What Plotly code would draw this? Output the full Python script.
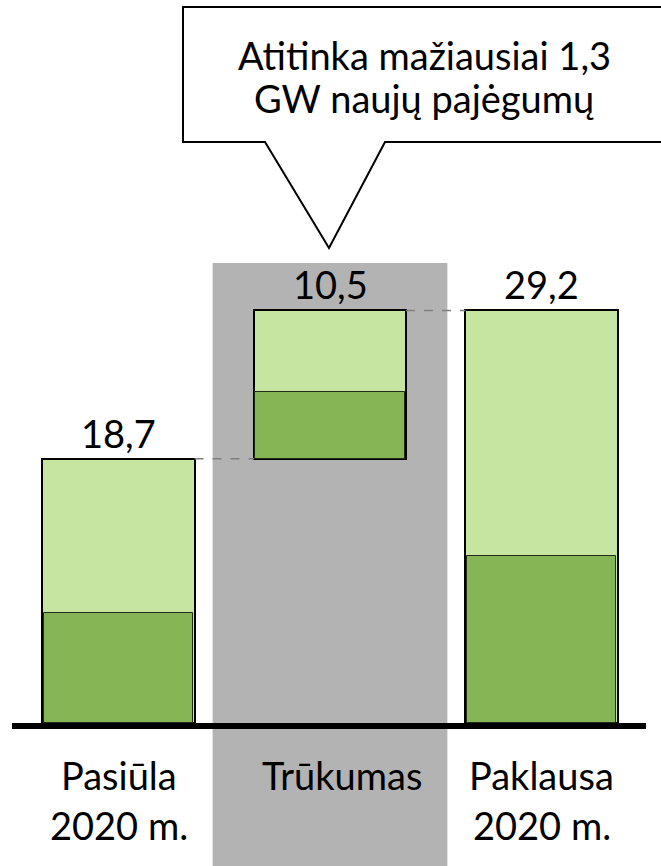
import plotly.graph_objects as go

# ---- data ----
categories = ["Pasiūla 2020 m.", "Trūkumas", "Paklausa 2020 m."]
cat_labels = ["Pasiūla<br>2020 m.", "Trūkumas", "Paklausa<br>2020 m."]
total_values = [18.7, 10.5, 29.2]
total_bases = [0.0, 18.7, 0.0]
dark_values = [7.8, 4.7, 11.8]
value_labels = ["18,7", "10,5", "29,2"]
callout_text = ["Atitinka mažiausiai 1,3", "GW naujų pajėgumų"]

W, H = 661, 866
FONT = "Lato"
LIGHT = "#c5e5a0"
DARK = "#86b555"
GRAY = "#b3b3b3"

def px(x):
    return x / W

def py(y):
    return 1 - y / H

fig = go.Figure()

bar_w = 0.719
fig.add_trace(go.Bar(
    x=categories, y=total_values, base=total_bases, width=bar_w,
    marker=dict(color=LIGHT, line=dict(color="black", width=2)),
    hoverinfo="skip", showlegend=False,
))
fig.add_trace(go.Bar(
    x=categories, y=dark_values, base=total_bases, width=bar_w - 0.01,
    marker=dict(color=DARK, line=dict(color="#1f2b14", width=1)),
    hoverinfo="skip", showlegend=False,
))

# y scale: 0 at 723 px, 14.13 px per unit
ppu = 14.13
y_lo = -(H - 723) / ppu
y_hi = 723 / ppu
# x scale: category 0 at 118.5 px, 211.5 px per category
x0px, xstep = 118.5, 211.5
x_lo = -x0px / xstep
x_hi = (W - x0px) / xstep

shapes = []
# gray highlight behind gap column
shapes.append(dict(type="rect", xref="x", yref="y", x0=1 - 0.555, x1=1 + 0.555,
                   y0=y_lo - 1, y1=(723 - 263) / ppu, fillcolor=GRAY,
                   line=dict(width=0), layer="below"))
# dashed connectors
tops = [b + v for b, v in zip(total_bases, total_values)]
for i in range(len(categories) - 1):
    shapes.append(dict(type="line", xref="x", yref="y",
                       x0=i + bar_w / 2, x1=i + 1 - bar_w / 2,
                       y0=tops[i], y1=tops[i],
                       line=dict(color="#7f7f7f", width=1.5, dash="dash")))
# baseline
shapes.append(dict(type="line", xref="x", yref="y",
                   x0=(12 - x0px) / xstep, x1=(646 - x0px) / xstep,
                   y0=-3 / ppu, y1=-3 / ppu,
                   line=dict(color="black", width=6)))
# callout
pts = [(183, 142), (183, 7), (680, 7), (680, 142), (385, 142), (329, 248), (265, 142)]
path = "M " + " L ".join(f"{px(a):.5f},{py(b):.5f}" for a, b in pts) + " Z"
shapes.append(dict(type="path", xref="paper", yref="paper", path=path,
                   fillcolor="white", line=dict(color="black", width=2)))

annotations = []
# value labels
for i, t in enumerate(value_labels):
    annotations.append(dict(x=categories[i], y=tops[i], xref="x", yref="y",
                            text=t, showarrow=False, yanchor="middle",
                            yshift=26, font=dict(family=FONT, size=38, color="black")))
# category labels
line_y = [775, 825]
xshifts = [0, 12, 0]
for i, lab in enumerate(cat_labels):
    for j, part in enumerate(lab.split("<br>")):
        annotations.append(dict(x=categories[i], y=(723 - line_y[j]) / ppu,
                                xref="x", yref="y", text=part, showarrow=False,
                                yanchor="middle", xshift=xshifts[i],
                                font=dict(family=FONT, size=38, color="black")))
# callout text
for j, t in enumerate(callout_text):
    annotations.append(dict(x=px(424), y=py([55, 98][j]), xref="paper", yref="paper",
                            text=t, showarrow=False, yanchor="middle",
                            font=dict(family=FONT, size=38, color="black")))

fig.update_layout(
    width=W, height=H,
    margin=dict(l=0, r=0, t=0, b=0),
    paper_bgcolor="white", plot_bgcolor="white",
    barmode="overlay", bargap=0,
    xaxis=dict(range=[x_lo, x_hi], showgrid=False, zeroline=False,
               showticklabels=False, showline=False, fixedrange=True),
    yaxis=dict(range=[y_lo, y_hi], showgrid=False, zeroline=False,
               showticklabels=False, showline=False, fixedrange=True),
    shapes=shapes, annotations=annotations,
)

fig.write_html("out.html", config={"displayModeBar": False},
               post_script="document.body.style.margin='0';document.body.style.overflow='hidden';")
